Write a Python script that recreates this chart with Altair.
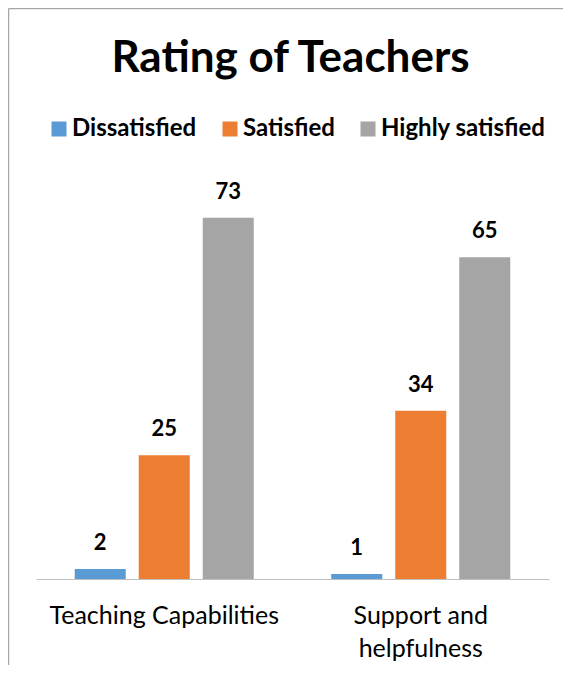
import altair as alt
import pandas as pd

categories = ["Teaching Capabilities", "Support and helpfulness"]
series = ["Dissatisfied", "Satisfied", "Highly satisfied"]
dissatisfied = [2, 1]
satisfied = [25, 34]
highly_satisfied = [73, 65]
colors = ["#5B9BD5", "#ED7D31", "#A5A5A5"]

rows = []
for i, cat in enumerate(categories):
    for s, vals in zip(series, [dissatisfied, satisfied, highly_satisfied]):
        rows.append({"Category": cat, "Series": s, "Value": vals[i]})
df = pd.DataFrame(rows)

FONT = "Lato"

x_enc = alt.X(
    "Category:N",
    sort=categories,
    scale=alt.Scale(paddingInner=0.302, paddingOuter=0.151),
    axis=alt.Axis(
        title=None,
        labelAngle=0,
        ticks=False,
        tickSize=0,
        labelPadding=24,
        labelFont=FONT,
        labelFontSize=25,
        labelColor="#000000",
        labelLineHeight=33,
        labelLimit=400,
        labelExpr="datum.label == 'Support and helpfulness' ? ['Support and', 'helpfulness'] : datum.label",
        domainColor="#BFBFBF",
        domainWidth=1.2,
        grid=False,
    ),
)
xoff = alt.XOffset(
    "Series:N", sort=series, scale=alt.Scale(paddingInner=0.203, paddingOuter=0)
)
y_enc = alt.Y(
    "Value:Q",
    scale=alt.Scale(domain=[0, 80]),
    axis=None,
)

bars = alt.Chart(df).mark_bar().encode(
    x=x_enc,
    xOffset=xoff,
    y=y_enc,
    color=alt.Color(
        "Series:N",
        sort=series,
        scale=alt.Scale(domain=series, range=colors),
        legend=alt.Legend(
            title=None,
            orient="none",
            direction="horizontal",
            legendX=11,
            legendY=-66,
            symbolType="square",
            symbolSize=225,
            symbolStrokeWidth=0,
            symbolOpacity=1,
            labelFont=FONT,
            labelFontSize=24,
            labelFontWeight="bold",
            labelColor="#000000",
            labelOffset=1,
            columnPadding=21,
            labelLimit=400,
        ),
    ),
)

labels = alt.Chart(df).mark_text(
    font=FONT, fontSize=22, fontWeight="bold", baseline="alphabetic", dy=-19, color="#000000"
).encode(
    x=alt.X("Category:N", sort=categories),
    xOffset=alt.XOffset("Series:N", sort=series),
    y=alt.Y("Value:Q"),
    text=alt.Text("Value:Q"),
)

frame_df = pd.DataFrame({"k": [0]})
left_border = alt.Chart(frame_df).mark_rule(color="#A6A6A6", strokeWidth=1.5).encode(
    x=alt.value(-27.5), y=alt.value(-174.5), y2=alt.value(600)
)
top_border = alt.Chart(frame_df).mark_rule(color="#A6A6A6", strokeWidth=1.5).encode(
    x=alt.value(-27.5), x2=alt.value(700), y=alt.value(-174.5)
)

chart = (
    alt.layer(bars, labels, left_border, top_border)
    .properties(
        width=513,
        height=396,
        autosize=alt.AutoSizeParams(type="none"),
        padding={"left": 28, "top": 175, "right": 14, "bottom": 86},
        title=alt.TitleParams(
            "Rating of Teachers",
            font=FONT,
            fontSize=44,
            fontWeight="bold",
            color="#000000",
            anchor="middle",
            offset=-73,
            dx=-2,
        ),
    )
    .configure_view(stroke=None)
)

chart.save("out.html", embed_options={"renderer": "svg", "actions": False})
